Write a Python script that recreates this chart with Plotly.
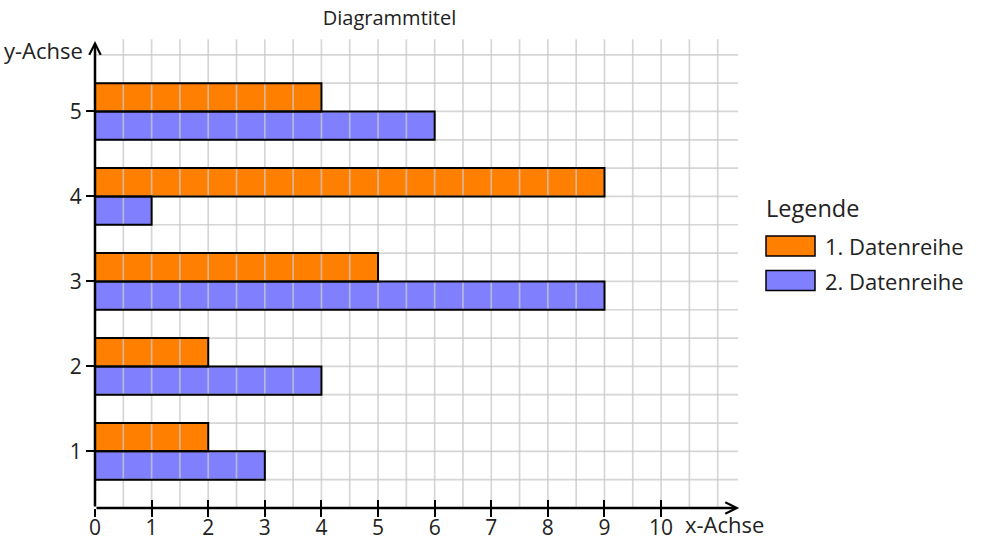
import numpy as np
import plotly.graph_objects as go

# ---- data ----
categories = [1, 2, 3, 4, 5]
series_names = ["1. Datenreihe", "2. Datenreihe"]
series1 = [2, 2, 5, 9, 4]   # orange
series2 = [3, 4, 9, 1, 6]   # blue
x_ticks = list(range(0, 11))
y_ticks = [1, 2, 3, 4, 5]

ORANGE = "#FF7F00"
BLUE = "#8080FF"
FONT = "Open Sans"
GRID = "rgba(200,200,200,0.75)"
TXT = "#222"

# plot area geometry (pixels)
L, R, T, B = 95, 746, 35, 508
W, H = 1000, 540
X_RANGE = [0, 11.5]
Y_RANGE = [1 / 3, 5.9]


def px_x(px):
    return (px - L) / (R - L)


def px_y(py):
    return (B - py) / (B - T)


fig = go.Figure()

# filled bars (no outline)
for vals, col, off, name in [(series1, ORANGE, 0, series_names[0]),
                             (series2, BLUE, -1 / 3, series_names[1])]:
    fig.add_trace(go.Bar(
        y=categories, x=vals, orientation="h", name=name,
        width=1 / 3, offset=off,
        marker=dict(color=col, line=dict(width=0)),
        showlegend=False, hoverinfo="skip",
    ))

# grid lines drawn above the bar fill
gx, gy = [], []
for xv in np.arange(0.5, 11.01, 0.5):
    gx += [xv, xv, None]
    gy += [1 / 3, 5.85, None]
for yv in np.arange(2 / 3, 5.7, 1 / 3):
    gx += [0, 11.36, None]
    gy += [yv, yv, None]
fig.add_trace(go.Scatter(
    x=gx, y=gy, mode="lines", line=dict(color=GRID, width=1.7),
    showlegend=False, hoverinfo="skip",
))

# bar outlines on the overlay axis, above the grid
for vals, off, name in [(series1, 0, series_names[0]),
                        (series2, -1 / 3, series_names[1])]:
    fig.add_trace(go.Bar(
        y=categories, x=vals, orientation="h", name=name,
        width=1 / 3, offset=off, xaxis="x2",
        marker=dict(color="rgba(0,0,0,0)", line=dict(color="black", width=2)),
        showlegend=False, hoverinfo="skip",
    ))

fig.update_layout(
    width=W, height=H,
    margin=dict(l=L, r=W - R, t=T, b=H - B, autoexpand=False),
    paper_bgcolor="white", plot_bgcolor="white",
    barmode="overlay",
    font=dict(family=FONT, size=22, color=TXT),
    title=dict(text="Diagrammtitel", x=389.5 / W, xref="container", xanchor="center",
               y=1 - 18 / H, yref="container", yanchor="middle",
               font=dict(family=FONT, size=20, color=TXT)),
    xaxis=dict(range=X_RANGE, showgrid=False, zeroline=False, showline=False,
               automargin=False, ticklabelstandoff=-7,
               tickvals=x_ticks, ticks="outside", ticklen=8, tickwidth=2,
               tickcolor="black", tickfont=dict(size=21, color=TXT)),
    xaxis2=dict(range=X_RANGE, overlaying="x", anchor="y", side="bottom",
                automargin=False,
                showgrid=False, zeroline=False, showline=False,
                tickvals=x_ticks, ticks="inside", ticklen=8, tickwidth=2,
                tickcolor="black", showticklabels=False),
    yaxis=dict(range=Y_RANGE, showgrid=False, zeroline=False, showline=False,
               automargin=False,
               tickvals=y_ticks, ticks="outside", ticklen=8, tickwidth=2,
               tickcolor="black", tickfont=dict(size=21, color=TXT)),
    showlegend=False,
)

# axis arrows
fig.add_annotation(x=11.38, y=1 / 3, ax=0, ay=1 / 3, xref="x", yref="y",
                   axref="x", ayref="y", showarrow=True, arrowhead=5,
                   arrowwidth=2.5, arrowsize=0.9, arrowcolor="black", standoff=0,
                   text="")
fig.add_annotation(x=0, y=5.83, ax=0, ay=1 / 3, xref="x", yref="y",
                   axref="x", ayref="y", showarrow=True, arrowhead=5,
                   arrowwidth=2.5, arrowsize=0.9, arrowcolor="black", standoff=0,
                   text="")

# axis titles
fig.add_annotation(text="x-Achse", xref="paper", yref="paper",
                   x=px_x(684), y=px_y(539.5), xanchor="left", yanchor="bottom",
                   borderpad=0, showarrow=False, font=dict(size=22, color=TXT))
fig.add_annotation(text="y-Achse", xref="paper", yref="paper",
                   x=px_x(85), y=px_y(50), xanchor="right", yanchor="middle",
                   showarrow=False, font=dict(size=22, color=TXT))

# custom legend
fig.add_annotation(text="Legende", xref="paper", yref="paper",
                   x=px_x(764), y=px_y(208), xanchor="left", yanchor="middle",
                   showarrow=False, font=dict(size=23.5, color=TXT))
for i, (name, col) in enumerate(zip(series_names, [ORANGE, BLUE])):
    top = 236 + i * 34.5
    fig.add_shape(type="rect", xref="paper", yref="paper",
                  x0=px_x(766), x1=px_x(815), y0=px_y(top), y1=px_y(top + 20),
                  fillcolor=col, line=dict(color="black", width=1.5))
    fig.add_annotation(text=name, xref="paper", yref="paper",
                       x=px_x(823), y=px_y(top + 10), xanchor="left", yanchor="middle",
                       showarrow=False, font=dict(size=22, color=TXT))

fig.write_html("out.html")
